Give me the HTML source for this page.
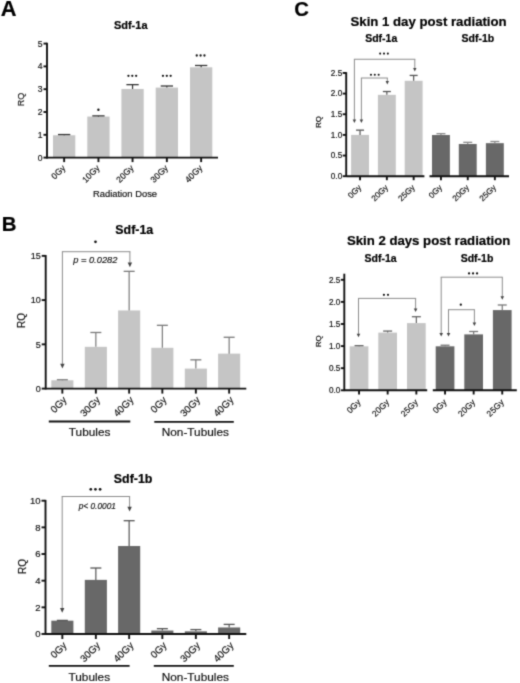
<!DOCTYPE html>
<html><head><meta charset="utf-8"><style>
html,body{margin:0;padding:0;background:#fff;}
svg{display:block;font-family:"Liberation Sans", sans-serif;filter:grayscale(1);}
text{stroke:#111;stroke-width:0.18px;}
text[font-weight=bold]{stroke:#000;stroke-width:0.2px;}
</style></head><body>
<svg width="520" height="683" viewBox="0 0 520 683">
<defs><filter id="bl" x="0" y="0" width="520" height="683" filterUnits="userSpaceOnUse" color-interpolation-filters="sRGB"><feConvolveMatrix order="3" kernelMatrix="0.03 0.1 0.03 0.1 0.48 0.1 0.03 0.1 0.03" edgeMode="duplicate"/></filter></defs>
<g filter="url(#bl)">
<rect width="520" height="683" fill="#fff"/>
<text x="0.80" y="16.00" font-size="21.8" text-anchor="start" font-weight="bold" font-style="normal" fill="#000" >A</text>
<text x="130.70" y="29.00" font-size="11" text-anchor="middle" font-weight="bold" font-style="normal" fill="#000" >Sdf-1a</text>
<line x1="47.00" y1="42.80" x2="47.00" y2="158.40" stroke="#111" stroke-width="1.9"/>
<line x1="43.50" y1="157.60" x2="47.00" y2="157.60" stroke="#111" stroke-width="1.9"/>
<text x="42.50" y="160.61" font-size="8.6" text-anchor="end" font-weight="normal" font-style="normal" fill="#111" >0</text>
<line x1="43.50" y1="134.80" x2="47.00" y2="134.80" stroke="#111" stroke-width="1.9"/>
<text x="42.50" y="137.81" font-size="8.6" text-anchor="end" font-weight="normal" font-style="normal" fill="#111" >1</text>
<line x1="43.50" y1="112.00" x2="47.00" y2="112.00" stroke="#111" stroke-width="1.9"/>
<text x="42.50" y="115.01" font-size="8.6" text-anchor="end" font-weight="normal" font-style="normal" fill="#111" >2</text>
<line x1="43.50" y1="89.20" x2="47.00" y2="89.20" stroke="#111" stroke-width="1.9"/>
<text x="42.50" y="92.21" font-size="8.6" text-anchor="end" font-weight="normal" font-style="normal" fill="#111" >3</text>
<line x1="43.50" y1="66.40" x2="47.00" y2="66.40" stroke="#111" stroke-width="1.9"/>
<text x="42.50" y="69.41" font-size="8.6" text-anchor="end" font-weight="normal" font-style="normal" fill="#111" >4</text>
<line x1="43.50" y1="43.60" x2="47.00" y2="43.60" stroke="#111" stroke-width="1.9"/>
<text x="42.50" y="46.61" font-size="8.6" text-anchor="end" font-weight="normal" font-style="normal" fill="#111" >5</text>
<rect x="53.00" y="135.26" width="22.30" height="22.34" fill="#c5c5c5"/>
<line x1="64.15" y1="134.57" x2="64.15" y2="135.26" stroke="#333" stroke-width="1.2"/>
<line x1="58.00" y1="134.57" x2="70.30" y2="134.57" stroke="#333" stroke-width="1.3"/>
<rect x="87.30" y="116.56" width="22.30" height="41.04" fill="#c5c5c5"/>
<line x1="98.45" y1="115.88" x2="98.45" y2="116.56" stroke="#333" stroke-width="1.2"/>
<line x1="92.30" y1="115.88" x2="104.60" y2="115.88" stroke="#333" stroke-width="1.3"/>
<rect x="121.40" y="88.97" width="22.30" height="68.63" fill="#c5c5c5"/>
<line x1="132.55" y1="84.64" x2="132.55" y2="88.97" stroke="#333" stroke-width="1.2"/>
<line x1="126.40" y1="84.64" x2="138.70" y2="84.64" stroke="#333" stroke-width="1.3"/>
<rect x="155.70" y="87.60" width="22.30" height="70.00" fill="#c5c5c5"/>
<line x1="166.85" y1="86.01" x2="166.85" y2="87.60" stroke="#333" stroke-width="1.2"/>
<line x1="160.70" y1="86.01" x2="173.00" y2="86.01" stroke="#333" stroke-width="1.3"/>
<rect x="190.00" y="67.31" width="22.30" height="90.29" fill="#c5c5c5"/>
<line x1="201.15" y1="65.49" x2="201.15" y2="67.31" stroke="#333" stroke-width="1.2"/>
<line x1="195.00" y1="65.49" x2="207.30" y2="65.49" stroke="#333" stroke-width="1.3"/>
<line x1="47.00" y1="157.60" x2="218.00" y2="157.60" stroke="#111" stroke-width="1.9"/>
<line x1="64.15" y1="157.60" x2="64.15" y2="162.10" stroke="#111" stroke-width="1.9"/>
<line x1="98.45" y1="157.60" x2="98.45" y2="162.10" stroke="#111" stroke-width="1.9"/>
<line x1="132.55" y1="157.60" x2="132.55" y2="162.10" stroke="#111" stroke-width="1.9"/>
<line x1="166.85" y1="157.60" x2="166.85" y2="162.10" stroke="#111" stroke-width="1.9"/>
<line x1="201.15" y1="157.60" x2="201.15" y2="162.10" stroke="#111" stroke-width="1.9"/>
<text x="0" y="0" font-size="8.6" text-anchor="end" fill="#111" transform="translate(65.95,168.60) rotate(-45)">0Gy</text>
<text x="0" y="0" font-size="8.6" text-anchor="end" fill="#111" transform="translate(100.25,168.60) rotate(-45)">10Gy</text>
<text x="0" y="0" font-size="8.6" text-anchor="end" fill="#111" transform="translate(134.35,168.60) rotate(-45)">20Gy</text>
<text x="0" y="0" font-size="8.6" text-anchor="end" fill="#111" transform="translate(168.65,168.60) rotate(-45)">30Gy</text>
<text x="0" y="0" font-size="8.6" text-anchor="end" fill="#111" transform="translate(202.95,168.60) rotate(-45)">40Gy</text>
<text x="125.00" y="197.30" font-size="9.4" text-anchor="middle" font-weight="normal" font-style="normal" fill="#111" >Radiation Dose</text>
<text x="0" y="0" font-size="9" text-anchor="middle" fill="#111" transform="translate(23.7,99.6) rotate(-90)">RQ</text>
<circle cx="98.40" cy="109.80" r="1.2" fill="#111"/>
<circle cx="128.45" cy="75.80" r="1.15" fill="#111"/>
<circle cx="132.30" cy="75.80" r="1.15" fill="#111"/>
<circle cx="136.15" cy="75.80" r="1.15" fill="#111"/>
<circle cx="162.95" cy="75.80" r="1.15" fill="#111"/>
<circle cx="166.80" cy="75.80" r="1.15" fill="#111"/>
<circle cx="170.65" cy="75.80" r="1.15" fill="#111"/>
<circle cx="196.75" cy="55.50" r="1.15" fill="#111"/>
<circle cx="200.60" cy="55.50" r="1.15" fill="#111"/>
<circle cx="204.45" cy="55.50" r="1.15" fill="#111"/>
<text x="1.80" y="230.90" font-size="20.4" text-anchor="start" font-weight="bold" font-style="normal" fill="#000" >B</text>
<text x="134.30" y="234.20" font-size="12.4" text-anchor="middle" font-weight="bold" font-style="normal" fill="#000" >Sdf-1a</text>
<line x1="45.70" y1="255.05" x2="45.70" y2="389.40" stroke="#111" stroke-width="1.9"/>
<line x1="41.70" y1="388.60" x2="45.70" y2="388.60" stroke="#111" stroke-width="1.9"/>
<text x="40.70" y="391.75" font-size="9.0" text-anchor="end" font-weight="normal" font-style="normal" fill="#111" >0</text>
<line x1="41.70" y1="344.35" x2="45.70" y2="344.35" stroke="#111" stroke-width="1.9"/>
<text x="40.70" y="347.50" font-size="9.0" text-anchor="end" font-weight="normal" font-style="normal" fill="#111" >5</text>
<line x1="41.70" y1="300.10" x2="45.70" y2="300.10" stroke="#111" stroke-width="1.9"/>
<text x="40.70" y="303.25" font-size="9.0" text-anchor="end" font-weight="normal" font-style="normal" fill="#111" >10</text>
<line x1="41.70" y1="255.85" x2="45.70" y2="255.85" stroke="#111" stroke-width="1.9"/>
<text x="40.70" y="259.00" font-size="9.0" text-anchor="end" font-weight="normal" font-style="normal" fill="#111" >15</text>
<rect x="51.30" y="380.28" width="22.10" height="8.32" fill="#c5c5c5"/>
<line x1="62.35" y1="379.75" x2="62.35" y2="380.28" stroke="#7a7a7a" stroke-width="1.2"/>
<line x1="56.85" y1="379.75" x2="67.85" y2="379.75" stroke="#7a7a7a" stroke-width="1.3"/>
<rect x="84.80" y="346.83" width="22.10" height="41.77" fill="#c5c5c5"/>
<line x1="95.85" y1="332.49" x2="95.85" y2="346.83" stroke="#7a7a7a" stroke-width="1.2"/>
<line x1="90.35" y1="332.49" x2="101.35" y2="332.49" stroke="#7a7a7a" stroke-width="1.3"/>
<rect x="118.10" y="310.45" width="22.10" height="78.15" fill="#c5c5c5"/>
<line x1="129.15" y1="271.34" x2="129.15" y2="310.45" stroke="#7a7a7a" stroke-width="1.2"/>
<line x1="123.65" y1="271.34" x2="134.65" y2="271.34" stroke="#7a7a7a" stroke-width="1.3"/>
<rect x="151.30" y="347.80" width="22.10" height="40.80" fill="#c5c5c5"/>
<line x1="162.35" y1="325.32" x2="162.35" y2="347.80" stroke="#7a7a7a" stroke-width="1.2"/>
<line x1="156.85" y1="325.32" x2="167.85" y2="325.32" stroke="#7a7a7a" stroke-width="1.3"/>
<rect x="184.80" y="368.60" width="22.10" height="20.00" fill="#c5c5c5"/>
<line x1="195.85" y1="359.84" x2="195.85" y2="368.60" stroke="#7a7a7a" stroke-width="1.2"/>
<line x1="190.35" y1="359.84" x2="201.35" y2="359.84" stroke="#7a7a7a" stroke-width="1.3"/>
<rect x="218.10" y="353.64" width="22.10" height="34.96" fill="#c5c5c5"/>
<line x1="229.15" y1="337.27" x2="229.15" y2="353.64" stroke="#7a7a7a" stroke-width="1.2"/>
<line x1="223.65" y1="337.27" x2="234.65" y2="337.27" stroke="#7a7a7a" stroke-width="1.3"/>
<line x1="45.50" y1="388.60" x2="246.30" y2="388.60" stroke="#111" stroke-width="1.9"/>
<line x1="62.35" y1="388.60" x2="62.35" y2="393.60" stroke="#111" stroke-width="1.9"/>
<line x1="95.85" y1="388.60" x2="95.85" y2="393.60" stroke="#111" stroke-width="1.9"/>
<line x1="129.15" y1="388.60" x2="129.15" y2="393.60" stroke="#111" stroke-width="1.9"/>
<line x1="162.35" y1="388.60" x2="162.35" y2="393.60" stroke="#111" stroke-width="1.9"/>
<line x1="195.85" y1="388.60" x2="195.85" y2="393.60" stroke="#111" stroke-width="1.9"/>
<line x1="229.15" y1="388.60" x2="229.15" y2="393.60" stroke="#111" stroke-width="1.9"/>
<text x="0" y="0" font-size="9.9" text-anchor="end" fill="#111" transform="translate(67.35,400.60) rotate(-45)">0Gy</text>
<text x="0" y="0" font-size="9.9" text-anchor="end" fill="#111" transform="translate(100.85,400.60) rotate(-45)">30Gy</text>
<text x="0" y="0" font-size="9.9" text-anchor="end" fill="#111" transform="translate(134.15,400.60) rotate(-45)">40Gy</text>
<text x="0" y="0" font-size="9.9" text-anchor="end" fill="#111" transform="translate(167.35,400.60) rotate(-45)">0Gy</text>
<text x="0" y="0" font-size="9.9" text-anchor="end" fill="#111" transform="translate(200.85,400.60) rotate(-45)">30Gy</text>
<text x="0" y="0" font-size="9.9" text-anchor="end" fill="#111" transform="translate(234.15,400.60) rotate(-45)">40Gy</text>
<line x1="48.80" y1="421.50" x2="130.30" y2="421.50" stroke="#111" stroke-width="1.8"/>
<line x1="154.30" y1="421.80" x2="233.80" y2="421.80" stroke="#111" stroke-width="1.8"/>
<text x="89.60" y="436.30" font-size="11.8" text-anchor="middle" font-weight="normal" font-style="normal" fill="#111" >Tubules</text>
<text x="195.30" y="436.00" font-size="11.8" text-anchor="middle" font-weight="normal" font-style="normal" fill="#111" >Non-Tubules</text>
<text x="0" y="0" font-size="10" text-anchor="middle" fill="#111" transform="translate(25.0,320.4) rotate(-90)">RQ</text>
<line x1="61.90" y1="251.70" x2="130.40" y2="251.70" stroke="#8c8c8c" stroke-width="1.0"/>
<line x1="62.40" y1="251.70" x2="62.40" y2="364.20" stroke="#8c8c8c" stroke-width="1.0"/>
<path d="M60.20,363.70 L64.60,363.70 L62.40,368.50 Z" fill="#444"/>
<line x1="129.90" y1="251.70" x2="129.90" y2="262.90" stroke="#8c8c8c" stroke-width="1.0"/>
<path d="M127.70,262.40 L132.10,262.40 L129.90,267.20 Z" fill="#444"/>
<circle cx="95.50" cy="241.80" r="1.35" fill="#111"/>
<text x="95.30" y="262.80" font-size="9.3" text-anchor="middle" font-weight="normal" font-style="italic" fill="#222" >p = 0.0282</text>
<text x="133.10" y="482.70" font-size="12.4" text-anchor="middle" font-weight="bold" font-style="normal" fill="#000" >Sdf-1b</text>
<line x1="45.50" y1="499.90" x2="45.50" y2="634.80" stroke="#111" stroke-width="1.9"/>
<line x1="41.50" y1="634.00" x2="45.50" y2="634.00" stroke="#111" stroke-width="1.9"/>
<text x="40.50" y="637.33" font-size="9.5" text-anchor="end" font-weight="normal" font-style="normal" fill="#111" >0</text>
<line x1="41.50" y1="607.34" x2="45.50" y2="607.34" stroke="#111" stroke-width="1.9"/>
<text x="40.50" y="610.67" font-size="9.5" text-anchor="end" font-weight="normal" font-style="normal" fill="#111" >2</text>
<line x1="41.50" y1="580.68" x2="45.50" y2="580.68" stroke="#111" stroke-width="1.9"/>
<text x="40.50" y="584.00" font-size="9.5" text-anchor="end" font-weight="normal" font-style="normal" fill="#111" >4</text>
<line x1="41.50" y1="554.02" x2="45.50" y2="554.02" stroke="#111" stroke-width="1.9"/>
<text x="40.50" y="557.35" font-size="9.5" text-anchor="end" font-weight="normal" font-style="normal" fill="#111" >6</text>
<line x1="41.50" y1="527.36" x2="45.50" y2="527.36" stroke="#111" stroke-width="1.9"/>
<text x="40.50" y="530.69" font-size="9.5" text-anchor="end" font-weight="normal" font-style="normal" fill="#111" >8</text>
<line x1="41.50" y1="500.70" x2="45.50" y2="500.70" stroke="#111" stroke-width="1.9"/>
<text x="40.50" y="504.02" font-size="9.5" text-anchor="end" font-weight="normal" font-style="normal" fill="#111" >10</text>
<rect x="51.30" y="620.67" width="22.10" height="13.33" fill="#686868"/>
<line x1="62.35" y1="620.40" x2="62.35" y2="620.67" stroke="#555" stroke-width="1.2"/>
<line x1="56.85" y1="620.40" x2="67.85" y2="620.40" stroke="#555" stroke-width="1.3"/>
<rect x="84.80" y="579.88" width="22.10" height="54.12" fill="#686868"/>
<line x1="95.85" y1="568.02" x2="95.85" y2="579.88" stroke="#555" stroke-width="1.2"/>
<line x1="90.35" y1="568.02" x2="101.35" y2="568.02" stroke="#555" stroke-width="1.3"/>
<rect x="118.10" y="546.02" width="22.10" height="87.98" fill="#686868"/>
<line x1="129.15" y1="520.69" x2="129.15" y2="546.02" stroke="#555" stroke-width="1.2"/>
<line x1="123.65" y1="520.69" x2="134.65" y2="520.69" stroke="#555" stroke-width="1.3"/>
<rect x="151.30" y="630.53" width="22.10" height="3.47" fill="#686868"/>
<line x1="162.35" y1="628.67" x2="162.35" y2="630.53" stroke="#555" stroke-width="1.2"/>
<line x1="156.85" y1="628.67" x2="167.85" y2="628.67" stroke="#555" stroke-width="1.3"/>
<rect x="184.80" y="631.33" width="22.10" height="2.67" fill="#686868"/>
<line x1="195.85" y1="629.60" x2="195.85" y2="631.33" stroke="#555" stroke-width="1.2"/>
<line x1="190.35" y1="629.60" x2="201.35" y2="629.60" stroke="#555" stroke-width="1.3"/>
<rect x="218.10" y="627.47" width="22.10" height="6.53" fill="#686868"/>
<line x1="229.15" y1="624.40" x2="229.15" y2="627.47" stroke="#555" stroke-width="1.2"/>
<line x1="223.65" y1="624.40" x2="234.65" y2="624.40" stroke="#555" stroke-width="1.3"/>
<line x1="45.20" y1="634.00" x2="246.30" y2="634.00" stroke="#111" stroke-width="1.9"/>
<line x1="62.35" y1="634.00" x2="62.35" y2="639.00" stroke="#111" stroke-width="1.9"/>
<line x1="95.85" y1="634.00" x2="95.85" y2="639.00" stroke="#111" stroke-width="1.9"/>
<line x1="129.15" y1="634.00" x2="129.15" y2="639.00" stroke="#111" stroke-width="1.9"/>
<line x1="162.35" y1="634.00" x2="162.35" y2="639.00" stroke="#111" stroke-width="1.9"/>
<line x1="195.85" y1="634.00" x2="195.85" y2="639.00" stroke="#111" stroke-width="1.9"/>
<line x1="229.15" y1="634.00" x2="229.15" y2="639.00" stroke="#111" stroke-width="1.9"/>
<text x="0" y="0" font-size="9.9" text-anchor="end" fill="#111" transform="translate(67.35,646.00) rotate(-45)">0Gy</text>
<text x="0" y="0" font-size="9.9" text-anchor="end" fill="#111" transform="translate(100.85,646.00) rotate(-45)">30Gy</text>
<text x="0" y="0" font-size="9.9" text-anchor="end" fill="#111" transform="translate(134.15,646.00) rotate(-45)">40Gy</text>
<text x="0" y="0" font-size="9.9" text-anchor="end" fill="#111" transform="translate(167.35,646.00) rotate(-45)">0Gy</text>
<text x="0" y="0" font-size="9.9" text-anchor="end" fill="#111" transform="translate(200.85,646.00) rotate(-45)">30Gy</text>
<text x="0" y="0" font-size="9.9" text-anchor="end" fill="#111" transform="translate(234.15,646.00) rotate(-45)">40Gy</text>
<line x1="48.80" y1="665.80" x2="129.60" y2="665.80" stroke="#111" stroke-width="1.8"/>
<line x1="153.80" y1="665.80" x2="233.80" y2="665.80" stroke="#111" stroke-width="1.8"/>
<text x="89.30" y="680.50" font-size="11.8" text-anchor="middle" font-weight="normal" font-style="normal" fill="#111" >Tubules</text>
<text x="195.30" y="680.80" font-size="11.8" text-anchor="middle" font-weight="normal" font-style="normal" fill="#111" >Non-Tubules</text>
<text x="0" y="0" font-size="10" text-anchor="middle" fill="#111" transform="translate(25.6,566.5) rotate(-90)">RQ</text>
<line x1="61.70" y1="496.50" x2="130.10" y2="496.50" stroke="#8c8c8c" stroke-width="1.0"/>
<line x1="62.20" y1="496.50" x2="62.20" y2="608.40" stroke="#8c8c8c" stroke-width="1.0"/>
<path d="M60.00,607.90 L64.40,607.90 L62.20,612.70 Z" fill="#444"/>
<line x1="129.60" y1="496.50" x2="129.60" y2="507.30" stroke="#8c8c8c" stroke-width="1.0"/>
<path d="M127.40,506.80 L131.80,506.80 L129.60,511.60 Z" fill="#444"/>
<circle cx="90.80" cy="489.30" r="1.35" fill="#111"/>
<circle cx="95.45" cy="489.30" r="1.35" fill="#111"/>
<circle cx="100.10" cy="489.30" r="1.35" fill="#111"/>
<text x="97.30" y="508.80" font-size="8.3" text-anchor="middle" font-weight="normal" font-style="italic" fill="#222" >p&lt; 0.0001</text>
<text x="294.20" y="15.80" font-size="20.3" text-anchor="start" font-weight="bold" font-style="normal" fill="#000" >C</text>
<text x="428.60" y="26.10" font-size="13.2" text-anchor="middle" font-weight="bold" font-style="normal" fill="#000" >Skin 1 day post radiation</text>
<text x="381.20" y="41.60" font-size="10.5" text-anchor="middle" font-weight="bold" font-style="normal" fill="#000" >Sdf-1a</text>
<text x="477.90" y="41.50" font-size="10.5" text-anchor="middle" font-weight="bold" font-style="normal" fill="#000" >Sdf-1b</text>
<line x1="346.20" y1="72.15" x2="346.20" y2="177.00" stroke="#111" stroke-width="1.9"/>
<line x1="342.70" y1="176.20" x2="346.20" y2="176.20" stroke="#111" stroke-width="1.9"/>
<text x="342.20" y="179.07" font-size="8.2" text-anchor="end" font-weight="normal" font-style="normal" fill="#111" >0.0</text>
<line x1="342.70" y1="155.55" x2="346.20" y2="155.55" stroke="#111" stroke-width="1.9"/>
<text x="342.20" y="158.42" font-size="8.2" text-anchor="end" font-weight="normal" font-style="normal" fill="#111" >0.5</text>
<line x1="342.70" y1="134.90" x2="346.20" y2="134.90" stroke="#111" stroke-width="1.9"/>
<text x="342.20" y="137.77" font-size="8.2" text-anchor="end" font-weight="normal" font-style="normal" fill="#111" >1.0</text>
<line x1="342.70" y1="114.25" x2="346.20" y2="114.25" stroke="#111" stroke-width="1.9"/>
<text x="342.20" y="117.12" font-size="8.2" text-anchor="end" font-weight="normal" font-style="normal" fill="#111" >1.5</text>
<line x1="342.70" y1="93.60" x2="346.20" y2="93.60" stroke="#111" stroke-width="1.9"/>
<text x="342.20" y="96.47" font-size="8.2" text-anchor="end" font-weight="normal" font-style="normal" fill="#111" >2.0</text>
<line x1="342.70" y1="72.95" x2="346.20" y2="72.95" stroke="#111" stroke-width="1.9"/>
<text x="342.20" y="75.82" font-size="8.2" text-anchor="end" font-weight="normal" font-style="normal" fill="#111" >2.5</text>
<rect x="351.10" y="134.90" width="17.90" height="41.30" fill="#c5c5c5"/>
<line x1="360.05" y1="130.15" x2="360.05" y2="134.90" stroke="#555" stroke-width="1.2"/>
<line x1="356.05" y1="130.15" x2="364.05" y2="130.15" stroke="#555" stroke-width="1.3"/>
<rect x="377.90" y="94.84" width="17.90" height="81.36" fill="#c5c5c5"/>
<line x1="386.85" y1="91.53" x2="386.85" y2="94.84" stroke="#555" stroke-width="1.2"/>
<line x1="382.85" y1="91.53" x2="390.85" y2="91.53" stroke="#555" stroke-width="1.3"/>
<rect x="404.70" y="80.80" width="17.90" height="95.40" fill="#c5c5c5"/>
<line x1="413.65" y1="75.43" x2="413.65" y2="80.80" stroke="#555" stroke-width="1.2"/>
<line x1="409.65" y1="75.43" x2="417.65" y2="75.43" stroke="#555" stroke-width="1.3"/>
<rect x="432.00" y="135.02" width="17.90" height="41.18" fill="#686868"/>
<line x1="440.95" y1="133.66" x2="440.95" y2="135.02" stroke="#8a8a8a" stroke-width="1.2"/>
<line x1="436.45" y1="133.66" x2="445.45" y2="133.66" stroke="#8a8a8a" stroke-width="1.3"/>
<rect x="458.80" y="143.99" width="17.90" height="32.21" fill="#686868"/>
<line x1="467.75" y1="142.33" x2="467.75" y2="143.99" stroke="#8a8a8a" stroke-width="1.2"/>
<line x1="463.25" y1="142.33" x2="472.25" y2="142.33" stroke="#8a8a8a" stroke-width="1.3"/>
<rect x="485.90" y="143.16" width="17.90" height="33.04" fill="#686868"/>
<line x1="494.85" y1="141.51" x2="494.85" y2="143.16" stroke="#8a8a8a" stroke-width="1.2"/>
<line x1="490.35" y1="141.51" x2="499.35" y2="141.51" stroke="#8a8a8a" stroke-width="1.3"/>
<line x1="346.20" y1="176.20" x2="424.40" y2="176.20" stroke="#111" stroke-width="1.9"/>
<line x1="360.05" y1="176.20" x2="360.05" y2="180.20" stroke="#111" stroke-width="1.9"/>
<line x1="386.85" y1="176.20" x2="386.85" y2="180.20" stroke="#111" stroke-width="1.9"/>
<line x1="413.65" y1="176.20" x2="413.65" y2="180.20" stroke="#111" stroke-width="1.9"/>
<line x1="429.50" y1="176.20" x2="509.00" y2="176.20" stroke="#111" stroke-width="1.9"/>
<line x1="440.95" y1="176.20" x2="440.95" y2="180.20" stroke="#111" stroke-width="1.9"/>
<line x1="467.75" y1="176.20" x2="467.75" y2="180.20" stroke="#111" stroke-width="1.9"/>
<line x1="494.85" y1="176.20" x2="494.85" y2="180.20" stroke="#111" stroke-width="1.9"/>
<text x="0" y="0" font-size="8.2" text-anchor="end" fill="#111" transform="translate(361.85,188.00) rotate(-45)">0Gy</text>
<text x="0" y="0" font-size="8.2" text-anchor="end" fill="#111" transform="translate(388.65,188.00) rotate(-45)">20Gy</text>
<text x="0" y="0" font-size="8.2" text-anchor="end" fill="#111" transform="translate(415.45,188.00) rotate(-45)">25Gy</text>
<text x="0" y="0" font-size="8.2" text-anchor="end" fill="#111" transform="translate(442.75,188.00) rotate(-45)">0Gy</text>
<text x="0" y="0" font-size="8.2" text-anchor="end" fill="#111" transform="translate(469.55,188.00) rotate(-45)">20Gy</text>
<text x="0" y="0" font-size="8.2" text-anchor="end" fill="#111" transform="translate(496.65,188.00) rotate(-45)">25Gy</text>
<text x="0" y="0" font-size="8" text-anchor="middle" fill="#111" transform="translate(321.4,122.1) rotate(-90)">RQ</text>
<line x1="353.90" y1="59.25" x2="415.30" y2="59.25" stroke="#8c8c8c" stroke-width="1.0"/>
<line x1="354.40" y1="59.25" x2="354.40" y2="120.10" stroke="#8c8c8c" stroke-width="1.0"/>
<path d="M352.70,119.60 L356.10,119.60 L354.40,123.10 Z" fill="#444"/>
<line x1="414.80" y1="59.25" x2="414.80" y2="68.50" stroke="#8c8c8c" stroke-width="1.0"/>
<path d="M413.10,68.00 L416.50,68.00 L414.80,71.50 Z" fill="#444"/>
<line x1="360.90" y1="78.00" x2="387.80" y2="78.00" stroke="#8c8c8c" stroke-width="1.0"/>
<line x1="361.40" y1="78.00" x2="361.40" y2="120.10" stroke="#8c8c8c" stroke-width="1.0"/>
<path d="M359.70,119.60 L363.10,119.60 L361.40,123.10 Z" fill="#444"/>
<line x1="387.30" y1="78.00" x2="387.30" y2="81.60" stroke="#8c8c8c" stroke-width="1.0"/>
<path d="M385.60,81.10 L389.00,81.10 L387.30,84.60 Z" fill="#444"/>
<circle cx="380.15" cy="53.60" r="1.05" fill="#111"/>
<circle cx="384.00" cy="53.60" r="1.05" fill="#111"/>
<circle cx="387.85" cy="53.60" r="1.05" fill="#111"/>
<circle cx="370.95" cy="74.80" r="1.05" fill="#111"/>
<circle cx="374.80" cy="74.80" r="1.05" fill="#111"/>
<circle cx="378.65" cy="74.80" r="1.05" fill="#111"/>
<text x="428.60" y="244.70" font-size="13.2" text-anchor="middle" font-weight="bold" font-style="normal" fill="#000" >Skin 2 days post radiation</text>
<text x="380.60" y="262.20" font-size="10.5" text-anchor="middle" font-weight="bold" font-style="normal" fill="#000" >Sdf-1a</text>
<text x="477.00" y="262.20" font-size="10.5" text-anchor="middle" font-weight="bold" font-style="normal" fill="#000" >Sdf-1b</text>
<line x1="344.30" y1="273.70" x2="344.30" y2="391.10" stroke="#111" stroke-width="1.9"/>
<line x1="340.80" y1="390.30" x2="344.30" y2="390.30" stroke="#111" stroke-width="1.9"/>
<text x="340.30" y="393.17" font-size="8.2" text-anchor="end" font-weight="normal" font-style="normal" fill="#111" >0.0</text>
<line x1="340.80" y1="368.20" x2="344.30" y2="368.20" stroke="#111" stroke-width="1.9"/>
<text x="340.30" y="371.07" font-size="8.2" text-anchor="end" font-weight="normal" font-style="normal" fill="#111" >0.5</text>
<line x1="340.80" y1="346.10" x2="344.30" y2="346.10" stroke="#111" stroke-width="1.9"/>
<text x="340.30" y="348.97" font-size="8.2" text-anchor="end" font-weight="normal" font-style="normal" fill="#111" >1.0</text>
<line x1="340.80" y1="324.00" x2="344.30" y2="324.00" stroke="#111" stroke-width="1.9"/>
<text x="340.30" y="326.87" font-size="8.2" text-anchor="end" font-weight="normal" font-style="normal" fill="#111" >1.5</text>
<line x1="340.80" y1="301.90" x2="344.30" y2="301.90" stroke="#111" stroke-width="1.9"/>
<text x="340.30" y="304.77" font-size="8.2" text-anchor="end" font-weight="normal" font-style="normal" fill="#111" >2.0</text>
<line x1="340.80" y1="279.80" x2="344.30" y2="279.80" stroke="#111" stroke-width="1.9"/>
<text x="340.30" y="282.67" font-size="8.2" text-anchor="end" font-weight="normal" font-style="normal" fill="#111" >2.5</text>
<rect x="349.70" y="346.32" width="18.70" height="43.98" fill="#c5c5c5"/>
<line x1="359.05" y1="345.66" x2="359.05" y2="346.32" stroke="#666" stroke-width="1.2"/>
<line x1="354.55" y1="345.66" x2="363.55" y2="345.66" stroke="#666" stroke-width="1.3"/>
<rect x="378.30" y="332.62" width="18.70" height="57.68" fill="#c5c5c5"/>
<line x1="387.65" y1="331.07" x2="387.65" y2="332.62" stroke="#666" stroke-width="1.2"/>
<line x1="383.15" y1="331.07" x2="392.15" y2="331.07" stroke="#666" stroke-width="1.3"/>
<rect x="407.00" y="323.12" width="18.70" height="67.18" fill="#c5c5c5"/>
<line x1="416.35" y1="316.71" x2="416.35" y2="323.12" stroke="#666" stroke-width="1.2"/>
<line x1="411.85" y1="316.71" x2="420.85" y2="316.71" stroke="#666" stroke-width="1.3"/>
<rect x="435.70" y="346.32" width="18.70" height="43.98" fill="#686868"/>
<line x1="445.05" y1="345.22" x2="445.05" y2="346.32" stroke="#777" stroke-width="1.2"/>
<line x1="440.55" y1="345.22" x2="449.55" y2="345.22" stroke="#777" stroke-width="1.3"/>
<rect x="464.30" y="334.39" width="18.70" height="55.91" fill="#686868"/>
<line x1="473.65" y1="331.51" x2="473.65" y2="334.39" stroke="#777" stroke-width="1.2"/>
<line x1="469.15" y1="331.51" x2="478.15" y2="331.51" stroke="#777" stroke-width="1.3"/>
<rect x="492.90" y="310.08" width="18.70" height="80.22" fill="#686868"/>
<line x1="502.25" y1="304.99" x2="502.25" y2="310.08" stroke="#777" stroke-width="1.2"/>
<line x1="497.75" y1="304.99" x2="506.75" y2="304.99" stroke="#777" stroke-width="1.3"/>
<line x1="344.30" y1="390.30" x2="427.20" y2="390.30" stroke="#111" stroke-width="1.9"/>
<line x1="359.05" y1="390.30" x2="359.05" y2="394.50" stroke="#111" stroke-width="1.9"/>
<line x1="387.65" y1="390.30" x2="387.65" y2="394.50" stroke="#111" stroke-width="1.9"/>
<line x1="416.35" y1="390.30" x2="416.35" y2="394.50" stroke="#111" stroke-width="1.9"/>
<line x1="432.80" y1="390.30" x2="516.80" y2="390.30" stroke="#111" stroke-width="1.9"/>
<line x1="445.05" y1="390.30" x2="445.05" y2="394.50" stroke="#111" stroke-width="1.9"/>
<line x1="473.65" y1="390.30" x2="473.65" y2="394.50" stroke="#111" stroke-width="1.9"/>
<line x1="502.25" y1="390.30" x2="502.25" y2="394.50" stroke="#111" stroke-width="1.9"/>
<text x="0" y="0" font-size="8.5" text-anchor="end" fill="#111" transform="translate(361.25,402.80) rotate(-45)">0Gy</text>
<text x="0" y="0" font-size="8.5" text-anchor="end" fill="#111" transform="translate(389.85,402.80) rotate(-45)">20Gy</text>
<text x="0" y="0" font-size="8.5" text-anchor="end" fill="#111" transform="translate(418.55,402.80) rotate(-45)">25Gy</text>
<text x="0" y="0" font-size="8.5" text-anchor="end" fill="#111" transform="translate(447.25,402.80) rotate(-45)">0Gy</text>
<text x="0" y="0" font-size="8.5" text-anchor="end" fill="#111" transform="translate(475.85,402.80) rotate(-45)">20Gy</text>
<text x="0" y="0" font-size="8.5" text-anchor="end" fill="#111" transform="translate(504.45,402.80) rotate(-45)">25Gy</text>
<text x="0" y="0" font-size="8" text-anchor="middle" fill="#111" transform="translate(321.3,341.2) rotate(-90)">RQ</text>
<line x1="358.00" y1="298.40" x2="416.10" y2="298.40" stroke="#8c8c8c" stroke-width="1.0"/>
<line x1="358.50" y1="298.40" x2="358.50" y2="334.30" stroke="#8c8c8c" stroke-width="1.0"/>
<path d="M356.70,333.80 L360.30,333.80 L358.50,337.30 Z" fill="#444"/>
<line x1="415.60" y1="298.40" x2="415.60" y2="309.00" stroke="#8c8c8c" stroke-width="1.0"/>
<path d="M413.80,308.50 L417.40,308.50 L415.60,312.00 Z" fill="#444"/>
<circle cx="383.90" cy="294.80" r="1.1" fill="#111"/>
<circle cx="388.00" cy="294.80" r="1.1" fill="#111"/>
<line x1="440.70" y1="277.20" x2="502.80" y2="277.20" stroke="#8c8c8c" stroke-width="1.0"/>
<line x1="441.20" y1="277.20" x2="441.20" y2="333.40" stroke="#8c8c8c" stroke-width="1.0"/>
<path d="M439.40,332.90 L443.00,332.90 L441.20,336.40 Z" fill="#444"/>
<line x1="502.30" y1="277.20" x2="502.30" y2="296.80" stroke="#8c8c8c" stroke-width="1.0"/>
<path d="M500.50,296.30 L504.10,296.30 L502.30,299.80 Z" fill="#444"/>
<line x1="448.00" y1="309.70" x2="474.90" y2="309.70" stroke="#8c8c8c" stroke-width="1.0"/>
<line x1="448.50" y1="309.70" x2="448.50" y2="333.60" stroke="#8c8c8c" stroke-width="1.0"/>
<path d="M446.70,333.10 L450.30,333.10 L448.50,336.60 Z" fill="#444"/>
<line x1="474.40" y1="309.70" x2="474.40" y2="323.10" stroke="#8c8c8c" stroke-width="1.0"/>
<path d="M472.60,322.60 L476.20,322.60 L474.40,326.10 Z" fill="#444"/>
<circle cx="469.05" cy="273.40" r="1.15" fill="#111"/>
<circle cx="473.05" cy="273.40" r="1.15" fill="#111"/>
<circle cx="477.05" cy="273.40" r="1.15" fill="#111"/>
<circle cx="460.80" cy="304.70" r="1.15" fill="#111"/>
</g>
</svg>
</body></html>
